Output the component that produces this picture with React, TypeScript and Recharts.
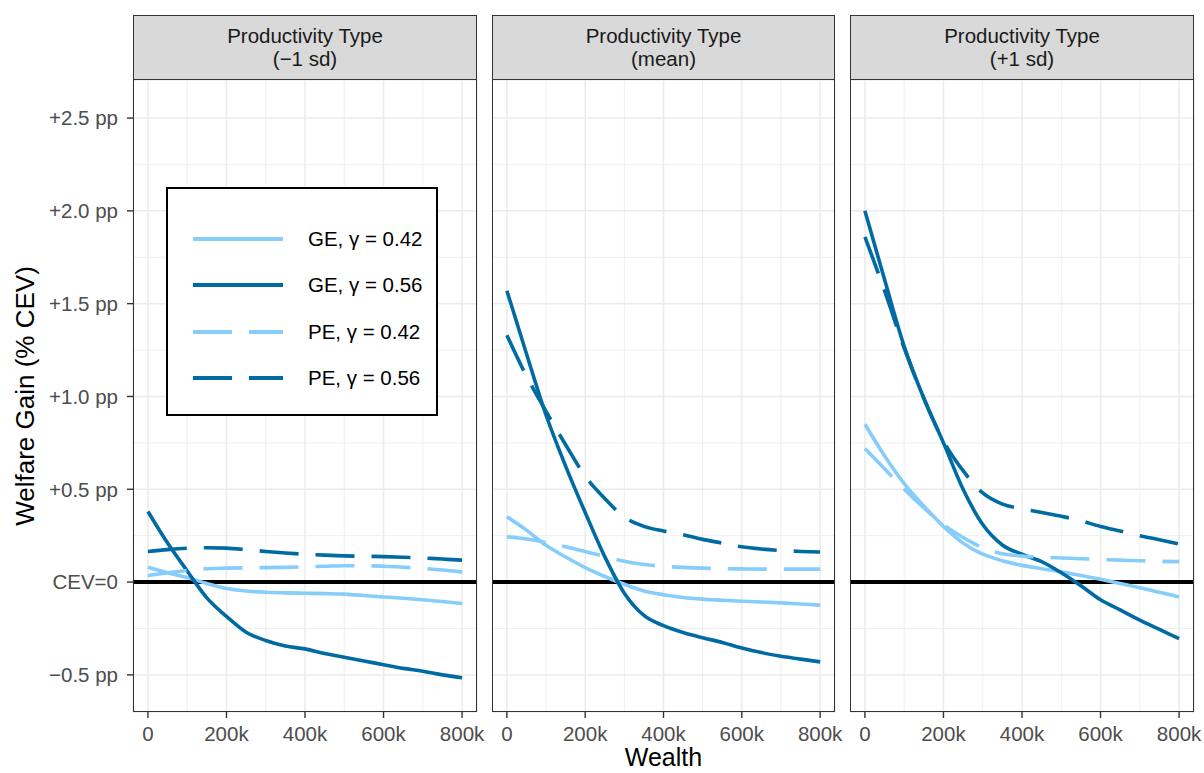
import React from "react"
import { CartesianGrid, Line, LineChart, ReferenceLine, XAxis, YAxis } from "recharts"

// wealth grid, thousands
const wealth = [0, 50, 100, 150, 200, 250, 300, 350, 400, 450, 500, 550, 600, 650, 700, 750, 800]

// Productivity type -1 sd
const lowGE42 = [0.08, 0.05, 0.025, -0.008, -0.035, -0.048, -0.055, -0.058, -0.06, -0.062, -0.065, -0.072, -0.08, -0.087, -0.095, -0.105, -0.115]
const lowGE56 = [0.38, 0.21, 0.06, -0.085, -0.185, -0.27, -0.315, -0.345, -0.36, -0.385, -0.405, -0.425, -0.445, -0.465, -0.48, -0.5, -0.515]
const lowPE42 = [0.035, 0.05, 0.063, 0.072, 0.075, 0.077, 0.078, 0.079, 0.082, 0.085, 0.088, 0.088, 0.085, 0.08, 0.074, 0.065, 0.055]
const lowPE56 = [0.165, 0.175, 0.182, 0.185, 0.183, 0.175, 0.165, 0.157, 0.15, 0.145, 0.141, 0.139, 0.137, 0.134, 0.13, 0.124, 0.118]

// Productivity type mean
const meanGE42 = [0.352, 0.28, 0.198, 0.135, 0.078, 0.03, -0.012, -0.048, -0.068, -0.083, -0.092, -0.098, -0.103, -0.107, -0.112, -0.118, -0.124]
const meanGE56 = [1.57, 1.23, 0.9, 0.625, 0.375, 0.137, -0.06, -0.18, -0.235, -0.272, -0.3, -0.325, -0.355, -0.38, -0.4, -0.415, -0.43]
const meanPE42 = [0.244, 0.232, 0.213, 0.19, 0.165, 0.138, 0.112, 0.095, 0.085, 0.079, 0.075, 0.072, 0.071, 0.07, 0.07, 0.07, 0.07]
const meanPE56 = [1.33, 1.11, 0.92, 0.74, 0.57, 0.45, 0.35, 0.3, 0.275, 0.255, 0.23, 0.21, 0.19, 0.178, 0.17, 0.165, 0.162]

// Productivity type +1 sd
const highGE42 = [0.85, 0.68, 0.53, 0.41, 0.3, 0.21, 0.15, 0.115, 0.09, 0.072, 0.055, 0.035, 0.015, -0.008, -0.03, -0.055, -0.08]
const highGE56 = [2.0, 1.63, 1.27, 0.99, 0.75, 0.5, 0.31, 0.2, 0.15, 0.11, 0.05, -0.02, -0.095, -0.15, -0.205, -0.255, -0.305]
const highPE42 = [0.72, 0.61, 0.5, 0.4, 0.31, 0.24, 0.185, 0.152, 0.14, 0.134, 0.13, 0.126, 0.122, 0.118, 0.115, 0.112, 0.11]
const highPE56 = [1.86, 1.57, 1.26, 0.99, 0.76, 0.6, 0.48, 0.42, 0.395, 0.375, 0.355, 0.33, 0.3, 0.275, 0.25, 0.228, 0.205]

const panelLabels = ["(\u22121 sd)", "(mean)", "(+1 sd)"]
const xTicks = [0, 200, 400, 600, 800]
const xMinor = [100, 300, 500, 700]
const yTicks = [-0.5, 0, 0.5, 1, 1.5, 2, 2.5]
const yMinor = [-0.25, 0.25, 0.75, 1.25, 1.75, 2.25]

const LIGHT = "#87CDFB"
const DARK = "#006BA3"
const DASH = "39 17"
const FONT = "'Liberation Sans', Arial, Helvetica, sans-serif"

const series = [
  { key: "ge42", name: "GE, \u03b3 = 0.42", color: LIGHT, dash: undefined },
  { key: "ge56", name: "GE, \u03b3 = 0.56", color: DARK, dash: undefined },
  { key: "pe42", name: "PE, \u03b3 = 0.42", color: LIGHT, dash: DASH },
  { key: "pe56", name: "PE, \u03b3 = 0.56", color: DARK, dash: DASH },
]

const build = (ge42: number[], ge56: number[], pe42: number[], pe56: number[]) =>
  wealth.map((w, i) => ({ w, ge42: ge42[i], ge56: ge56[i], pe42: pe42[i], pe56: pe56[i] }))

const panelData = [
  build(lowGE42, lowGE56, lowPE42, lowPE56),
  build(meanGE42, meanGE56, meanPE42, meanPE56),
  build(highGE42, highGE56, highPE42, highPE56),
]

const panels = [
  { left: 133, width: 344 },
  { left: 492, width: 343 },
  { left: 850, width: 344 },
]
const PANEL_TOP = 80
const PANEL_H = 632
const Y_AXIS_W = 133
const RIGHT_PAD = 30

const fmtY = (v: number) => {
  if (v === 0) return "CEV=0"
  if (v < 0) return `\u2212${Math.abs(v).toFixed(1)} pp`
  return `+${v.toFixed(1)} pp`
}
const fmtX = (v: number) => (v === 0 ? "0" : `${v}k`)

const tickStyle = { fill: "#4D4D4D", fontSize: 20.5, fontFamily: FONT }

function Panel({ idx }: { idx: number }) {
  const p = panels[idx]
  const first = idx === 0
  const chartLeft = first ? p.left - Y_AXIS_W : p.left
  const chartW = (first ? p.width + Y_AXIS_W : p.width) + RIGHT_PAD
  return (
    <>
      <div
        style={{
          position: "absolute",
          left: p.left,
          top: 15,
          width: p.width,
          height: 65,
          boxSizing: "border-box",
          background: "#D9D9D9",
          border: "1.5px solid #333",
          color: "#1A1A1A",
          fontFamily: FONT,
          fontSize: 20.5,
          lineHeight: "23px",
          textAlign: "center",
          paddingTop: 8,
        }}
      >
        Productivity Type
        <br />
        {panelLabels[idx]}
      </div>
      <div style={{ position: "absolute", left: chartLeft, top: PANEL_TOP }}>
        <LineChart
          width={chartW}
          height={PANEL_H + 45}
          data={panelData[idx]}
          margin={{ top: 0, right: RIGHT_PAD, bottom: 0, left: 0 }}
        >
          <CartesianGrid stroke="#EBEBEB" strokeWidth={1.5} />
          {xMinor.map((v) => (
            <ReferenceLine key={`xm${v}`} x={v} stroke="#EBEBEB" strokeWidth={0.8} />
          ))}
          {yMinor.map((v) => (
            <ReferenceLine key={`ym${v}`} y={v} stroke="#EBEBEB" strokeWidth={0.8} />
          ))}
          <XAxis
            dataKey="w"
            type="number"
            domain={[-38, 838]}
            ticks={xTicks}
            tickFormatter={fmtX}
            allowDataOverflow
            height={45}
            axisLine={false}
            tickLine={{ stroke: "#333", strokeWidth: 1.4 }}
            tickSize={6}
            tickMargin={8}
            tick={tickStyle}
            interval={0}
          />
          <YAxis
            type="number"
            domain={[-0.7, 2.705]}
            ticks={yTicks}
            tickFormatter={fmtY}
            allowDataOverflow
            hide={!first}
            width={Y_AXIS_W}
            axisLine={false}
            tickLine={{ stroke: "#333", strokeWidth: 1.4 }}
            tickSize={6}
            tickMargin={9}
            tick={tickStyle}
            interval={0}
          />
          <ReferenceLine y={0} stroke="#000" strokeWidth={4} />
          {series.map((s) => (
            <Line
              key={s.key}
              dataKey={s.key}
              type="monotone"
              stroke={s.color}
              strokeWidth={3.6}
              strokeDasharray={s.dash}
              dot={false}
              activeDot={false}
              isAnimationActive={false}
            />
          ))}
        </LineChart>
      </div>
      <div
        style={{
          position: "absolute",
          left: p.left,
          top: PANEL_TOP,
          width: p.width,
          height: PANEL_H,
          boxSizing: "border-box",
          border: "1.5px solid #333",
          borderTop: "none",
          pointerEvents: "none",
        }}
      />
    </>
  )
}

function LegendBox() {
  const rows = [239, 285, 332, 378]
  return (
    <div
      style={{
        position: "absolute",
        left: 166,
        top: 187,
        width: 272,
        height: 229,
        boxSizing: "border-box",
        border: "2px solid #000",
        background: "#fff",
      }}
    >
      <svg width={268} height={225} style={{ position: "absolute", left: 0, top: 0 }}>
        {series.map((s, i) => (
          <g key={s.key}>
            <line
              x1={25}
              x2={115}
              y1={rows[i] - 189}
              y2={rows[i] - 189}
              stroke={s.color}
              strokeWidth={4}
              strokeDasharray={s.dash}
            />
            <text
              x={140}
              y={rows[i] - 189}
              dy="0.35em"
              fontSize={20.5}
              fontFamily={FONT}
              fill="#000"
            >
              {s.name}
            </text>
          </g>
        ))}
      </svg>
    </div>
  )
}

export default function App() {
  return (
    <div
      style={{
        position: "absolute",
        left: 0,
        top: 0,
        width: 1204,
        height: 773,
        background: "#fff",
        overflow: "hidden",
      }}
    >
      {panels.map((_, i) => (
        <Panel key={i} idx={i} />
      ))}
      <LegendBox />
      <div
        style={{
          position: "absolute",
          left: 133,
          width: 1061,
          top: 743,
          textAlign: "center",
          fontFamily: FONT,
          fontSize: 25,
          lineHeight: "29px",
          color: "#000",
        }}
      >
        Wealth
      </div>
      <div
        style={{
          position: "absolute",
          left: 25,
          top: 396,
          transform: "translate(-50%, -50%) rotate(-90deg)",
          whiteSpace: "nowrap",
          fontFamily: FONT,
          fontSize: 26,
          lineHeight: "30px",
          color: "#000",
        }}
      >
        Welfare Gain (% CEV)
      </div>
    </div>
  )
}
